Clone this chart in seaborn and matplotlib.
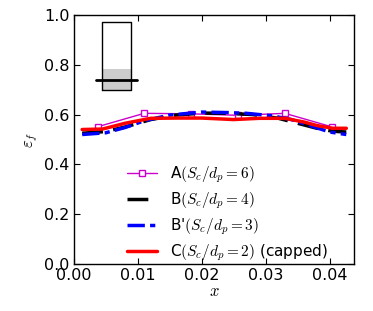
import numpy as np
import pandas as pd
import matplotlib
matplotlib.use("Agg")
import matplotlib.pyplot as plt
import seaborn as sns

# --- dados ---
x_a = [0.0037, 0.0110, 0.0183, 0.0257, 0.0330, 0.0403]
y_a = [0.551, 0.605, 0.603, 0.597, 0.605, 0.551]

x_b = [0.0013, 0.0050, 0.0080, 0.0120, 0.0160, 0.0200, 0.0240, 0.0280, 0.0320, 0.0350, 0.0380, 0.0405, 0.0426]
y_b = [0.525, 0.532, 0.550, 0.580, 0.598, 0.606, 0.605, 0.600, 0.585, 0.565, 0.545, 0.533, 0.530]

x_bp = [0.0013, 0.0050, 0.0080, 0.0110, 0.0150, 0.0200, 0.0240, 0.0270, 0.0310, 0.0340, 0.0370, 0.0400, 0.0426]
y_bp = [0.520, 0.527, 0.548, 0.575, 0.598, 0.610, 0.608, 0.605, 0.595, 0.580, 0.555, 0.530, 0.520]

x_c = [0.0013, 0.0045, 0.0080, 0.0120, 0.0160, 0.0200, 0.0250, 0.0290, 0.0330, 0.0360, 0.0380, 0.0405, 0.0426]
y_c = [0.540, 0.542, 0.565, 0.585, 0.586, 0.586, 0.580, 0.585, 0.585, 0.570, 0.556, 0.545, 0.545]

labels = [r"A$(S_c/d_p=6)$", r"B$(S_c/d_p=4)$", r"B'$(S_c/d_p=3)$", r"C$(S_c/d_p=2)$ (capped)"]

# inset: barra de referencia
box_x = [0.0044, 0.0089]
box_y = [0.699, 0.972]
fill_top = 0.783
line_x = [0.0034, 0.0099]
line_y = 0.739

sns.set_style("ticks", {"xtick.direction": "in", "ytick.direction": "in",
                        "text.color": "black", "xtick.color": "black", "ytick.color": "black",
                        "axes.labelcolor": "black", "axes.edgecolor": "black"})
plt.rcParams["mathtext.fontset"] = "cm"

fig, ax = plt.subplots(figsize=(3.73, 3.11), dpi=100)

sns.lineplot(x=x_a, y=y_a, ax=ax, color="#cc00cc", lw=1, marker="s", markersize=5,
             markerfacecolor="white", markeredgecolor="#cc00cc", markeredgewidth=1,
             label=labels[0], sort=False)
sns.lineplot(x=x_b, y=y_b, ax=ax, color="black", lw=2.5, label=labels[1], sort=False)
ax.lines[-1].set_dashes([6, 3])
sns.lineplot(x=x_bp, y=y_bp, ax=ax, color="blue", lw=2.5, label=labels[2], sort=False)
ax.lines[-1].set_dashes([5, 1.5, 1.5, 1.5])
sns.lineplot(x=x_c, y=y_c, ax=ax, color="red", lw=2.5, label=labels[3], sort=False)

# caixa do inset
ax.fill_between(box_x, box_y[0], fill_top, color="#cccccc", lw=0)
ax.plot([box_x[0], box_x[1], box_x[1], box_x[0], box_x[0]],
        [box_y[0], box_y[0], box_y[1], box_y[1], box_y[0]], color="black", lw=1)
ax.plot(line_x, [line_y, line_y], color="black", lw=2)

ax.set_xlim(0, 0.0438)
ax.set_ylim(0, 1.0)
ax.set_xticks([0, 0.01, 0.02, 0.03, 0.04])
ax.set_yticks([0, 0.2, 0.4, 0.6, 0.8, 1.0])
ax.set_xticklabels(["0.00", "0.01", "0.02", "0.03", "0.04"])
ax.set_yticklabels(["0.0", "0.2", "0.4", "0.6", "0.8", "1.0"])
ax.tick_params(top=True, right=True, labelsize=11.5, length=4, pad=3)
ax.set_xlabel(r"$x$", fontsize=12, labelpad=-1)
ax.set_ylabel(r"$\varepsilon_f$", fontsize=12, labelpad=3)
for s in ax.spines.values():
    s.set_linewidth(1)

leg = ax.legend(loc="lower left", bbox_to_anchor=(0.14, -0.05), frameon=False,
                handlelength=2.0, fontsize=11, labelspacing=0.35, handletextpad=0.8)

fig.subplots_adjust(left=0.198, right=0.949, top=0.952, bottom=0.151)
fig.savefig("out.png", dpi=100)
